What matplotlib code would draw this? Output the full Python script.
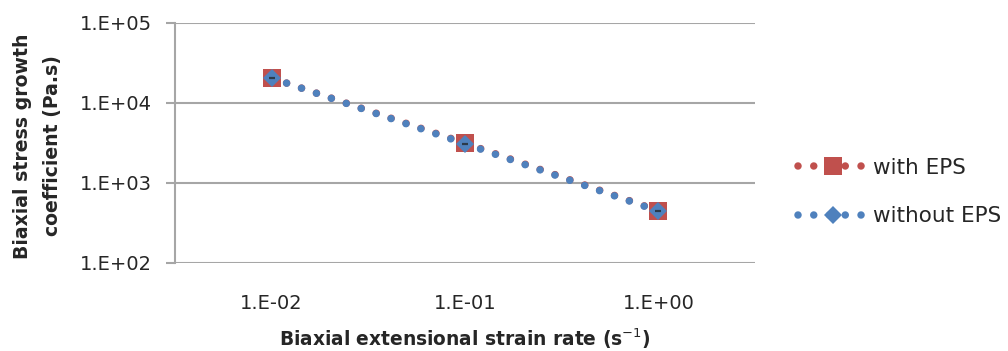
import matplotlib
matplotlib.use("Agg")
import matplotlib.pyplot as plt
from matplotlib.lines import Line2D

# Strain-rate categories and measured coefficients
strain_rates = ["1.E-02", "1.E-01", "1.E+00"]
with_eps = [2.05e4, 3.15e3, 450]
without_eps = [2.05e4, 3.1e3, 445]
y_ticks = [1e2, 1e3, 1e4, 1e5]
y_tick_labels = ["1.E+02", "1.E+03", "1.E+04", "1.E+05"]

RED = "#C0504D"
BLUE = "#4F81BD"
GRID = "#A6A6A6"
TEXT = "#262626"

plt.rcParams["font.family"] = ["DejaVu Sans"]

fig = plt.figure(figsize=(10.08, 3.51), dpi=100)
ax = fig.add_axes([175 / 1008, 1 - 263 / 351, 580 / 1008, 240 / 351])

x = list(range(len(strain_rates)))
LW = 5.4
dots = (0, (0.001, 2.1))
SQ = 12.3
DI = 9.3

common = dict(linewidth=LW, linestyle=dots, dash_capstyle="round",
              solid_capstyle="round")
ax.plot(x, with_eps, color=RED, marker="s", markersize=SQ,
        markeredgewidth=0, zorder=3, **common)
ax.plot(x, without_eps, color=BLUE, marker="D", markersize=DI,
        markeredgewidth=0, zorder=4, **common)
# small error-bar caps at each measured point
ax.plot(x, without_eps, linestyle="none", marker="_", markersize=5,
        markeredgewidth=1.6, color="#2b3a4a", zorder=5)

ax.set_yscale("log")
ax.set_ylim(1e2, 1e5)
ax.set_xlim(-0.5, len(strain_rates) - 0.5)
ax.set_yticks(y_ticks)
ax.set_yticklabels(y_tick_labels)
ax.minorticks_off()
ax.set_xticks(x)
ax.set_xticklabels(strain_rates)

ax.grid(axis="y", color=GRID, linewidth=1.5)
ax.set_axisbelow(True)
for side in ["top", "right", "bottom"]:
    ax.spines[side].set_visible(False)
ax.spines["left"].set_color(GRID)
ax.spines["left"].set_linewidth(1.5)

ax.tick_params(axis="y", length=6.5, width=1.5, color=GRID, pad=10,
               labelsize=14, labelcolor=TEXT)
ax.tick_params(axis="x", length=0, pad=22, labelsize=14, labelcolor=TEXT)

ax.set_xlabel("Biaxial extensional strain rate (s$^{-1}$)", fontsize=13.4,
              fontweight="bold", color=TEXT, labelpad=10)
fig.text(0.037, 1 - 146 / 351, "Biaxial stress growth\ncoefficient (Pa.s)",
         rotation=90, ha="center", va="center", fontsize=13.6,
         fontweight="bold", color=TEXT, linespacing=1.7)

handles = [
    Line2D([], [], color=RED, marker="s", markersize=SQ, markeredgewidth=0,
           linewidth=LW, linestyle=dots, dash_capstyle="round"),
    Line2D([], [], color=BLUE, marker="D", markersize=8.8, markeredgewidth=0,
           linewidth=LW, linestyle=dots, dash_capstyle="round"),
]
fig.legend(handles, ["with EPS", "without EPS"], loc="center left",
           bbox_to_anchor=(798 / 1008, 1 - 192 / 351), frameon=False,
           fontsize=15.5, handlelength=3.25, handletextpad=0.25,
           labelspacing=1.32, labelcolor=TEXT, borderpad=0,
           borderaxespad=0)

fig.savefig("out.png", dpi=100)
